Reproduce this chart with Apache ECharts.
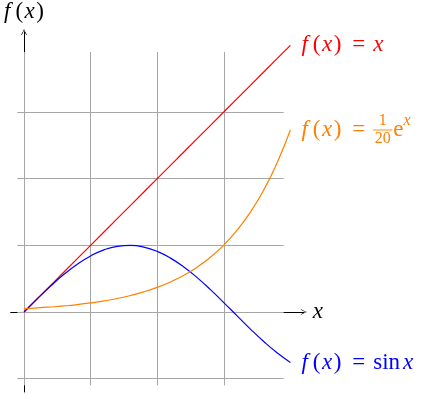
<!DOCTYPE html>
<html><head><meta charset="utf-8">
<script src="https://cdn.jsdelivr.net/npm/echarts@6/dist/echarts.min.js"></script>
<style>html,body{margin:0;padding:0;background:#fff}#c{width:423px;height:394px}</style>
</head><body><div id="c"></div>
<script>
// ---- data ----
const xs    = [0, 0.2, 0.4, 0.6, 0.8, 1, 1.2, 1.4, 1.6, 1.8, 2, 2.2, 2.4, 2.6, 2.8, 3, 3.2, 3.4, 3.6, 3.8, 4];
const linY  = [0, 0.2, 0.4, 0.6, 0.8, 1, 1.2, 1.4, 1.6, 1.8, 2, 2.2, 2.4, 2.6, 2.8, 3, 3.2, 3.4, 3.6, 3.8, 4];
const sinY  = [0, 0.199, 0.389, 0.565, 0.717, 0.841, 0.932, 0.985, 1.0, 0.974, 0.909, 0.808, 0.675, 0.516, 0.335, 0.141, -0.058, -0.256, -0.443, -0.612, -0.757];
const expY  = [0.05, 0.061, 0.075, 0.091, 0.111, 0.136, 0.166, 0.203, 0.248, 0.302, 0.369, 0.451, 0.551, 0.673, 0.822, 1.004, 1.227, 1.498, 1.83, 2.235, 2.73];
const gridXTicks = [0, 1, 2, 3];
const gridYTicks = [-1, 0, 1, 2, 3];
const gridXRange = [-0.1, 3.9];
const gridYRange = [-1.1, 3.9];
const axisXRange = [-0.2, 4.2];
const axisYRange = [-1.2, 4.2];

const RED = '#ff0000', BLUE = '#0000ff', ORANGE = '#ff8000';
const ARROW = 'path://M0,10 Q3,5 5,0 Q7,5 10,10 L9,10.6 Q6.3,6 5,2.2 Q3.7,6 1,10.6 Z';

const chart = echarts.init(document.getElementById('c'), null, {renderer: 'canvas'});

const gridLines = [];
gridXTicks.forEach(x => gridLines.push([{coord: [x, gridYRange[0]]}, {coord: [x, gridYRange[1]]}]));
gridYTicks.forEach(y => gridLines.push([{coord: [gridXRange[0], y]}, {coord: [gridXRange[1], y]}]));

const pairs = ys => xs.map((x, i) => [x, ys[i]]);

chart.setOption({
  animation: false,
  grid: {left: 10.7, right: 119.3, top: 32, bottom: 2, containLabel: false},
  xAxis: {
    type: 'value', min: axisXRange[0], max: axisXRange[1], z: 3,
    axisLine: {show: true, onZero: true, symbol: ['none', ARROW], symbolSize: [8, 6], lineStyle: {color: '#000', width: 1}},
    axisTick: {show: false}, axisLabel: {show: false}, splitLine: {show: false}
  },
  yAxis: {
    type: 'value', min: axisYRange[0], max: axisYRange[1], z: 3,
    axisLine: {show: true, onZero: true, symbol: ['none', ARROW], symbolSize: [8, 6], lineStyle: {color: '#000', width: 1}},
    axisTick: {show: false}, axisLabel: {show: false}, splitLine: {show: false}
  },
  series: [
    {type: 'line', data: [], z: 1, silent: true,
     markLine: {silent: true, symbol: ['none', 'none'], label: {show: false}, animation: false,
       lineStyle: {color: '#a6a6a6', width: 1, type: 'solid'}, data: gridLines}},
    {type: 'line', data: pairs(linY), showSymbol: false, z: 5, lineStyle: {color: RED, width: 1.2}},
    {type: 'line', data: pairs(sinY), smooth: true, showSymbol: false, z: 5, lineStyle: {color: BLUE, width: 1.2}},
    {type: 'line', data: pairs(expY), smooth: true, showSymbol: false, z: 5, lineStyle: {color: ORANGE, width: 1.2}}
  ]
});

// ---- math-like labels ----
const FAM = 'Liberation Serif';
const FS = 23;
const cssFont = (it, s) => (it ? 'italic ' : 'normal ') + s + 'px "' + FAM + '"';
const mctx = document.createElement('canvas').getContext('2d');
const tw = (t, it, s) => { mctx.font = cssFont(it, s); return mctx.measureText(t).width; };
const tstyle = (text, it, s, color, align, va) => ({
  text: text, fontFamily: FAM, fontSize: s, fontStyle: it ? 'italic' : 'normal',
  fill: color, align: align, verticalAlign: va
});

function layout(pieces, x0, y, color) {
  const els = []; let x = x0;
  for (const p of pieces) {
    if (p.gap !== undefined) { x += p.gap; continue; }
    if (p.frac) {
      const fw = Math.max(tw(p.frac[0], false, p.size), tw(p.frac[1], false, p.size)) + 3;
      const cx = x + fw / 2;
      els.push({type: 'text', x: cx, y: y - 1, z: 10, style: tstyle(p.frac[0], false, p.size, color, 'center', 'bottom')});
      els.push({type: 'line', z: 10, shape: {x1: x, y1: y, x2: x + fw, y2: y}, style: {stroke: color, lineWidth: 0.9}});
      els.push({type: 'text', x: cx, y: y + 1, z: 10, style: tstyle(p.frac[1], false, p.size, color, 'center', 'top')});
      x += fw; continue;
    }
    const s = p.size || FS;
    els.push({type: 'text', x: x, y: y + (p.dy || 0), z: 10, style: tstyle(p.t, !!p.i, s, color, 'left', 'middle')});
    x += tw(p.t, !!p.i, s);
  }
  return {els, width: x - x0};
}

const FX = [{t: 'f', i: true}, {gap: 5}, {t: '('}, {gap: 1.5}, {t: 'x', i: true}, {gap: 1.5}, {t: ')'}];
const EQ = [{gap: 11}, {t: '='}, {gap: 8}];

const last = xs.length - 1;
const pRed = chart.convertToPixel({gridIndex: 0}, [xs[last], linY[last]]);
const pBlue = chart.convertToPixel({gridIndex: 0}, [xs[last], sinY[last]]);
const pOr = chart.convertToPixel({gridIndex: 0}, [xs[last], expY[last]]);
const pXEnd = chart.convertToPixel({gridIndex: 0}, [axisXRange[1], 0]);
const pYEnd = chart.convertToPixel({gridIndex: 0}, [0, axisYRange[1]]);

const labels = [];
labels.push(...layout([...FX, ...EQ, {t: 'x', i: true}], pRed[0] + 11, pRed[1], RED).els);
labels.push(...layout([...FX, ...EQ, {t: 'sin'}, {gap: 3}, {t: 'x', i: true}], pBlue[0] + 11, pBlue[1], BLUE).els);
labels.push(...layout([...FX, ...EQ, {frac: ['1', '20'], size: 16}, {gap: 1}, {t: 'e'}, {t: 'x', i: true, size: 16, dy: -9}], pOr[0] + 11, pOr[1], ORANGE).els);
labels.push(...layout([{t: 'x', i: true}], pXEnd[0] + 9, pXEnd[1], '#000').els);
const fxW = layout(FX, 0, 0, '#000').width;
labels.push(...layout(FX, pYEnd[0] - fxW / 2, pYEnd[1] - 20, '#000').els);

chart.setOption({graphic: labels});
</script>
</body></html>
